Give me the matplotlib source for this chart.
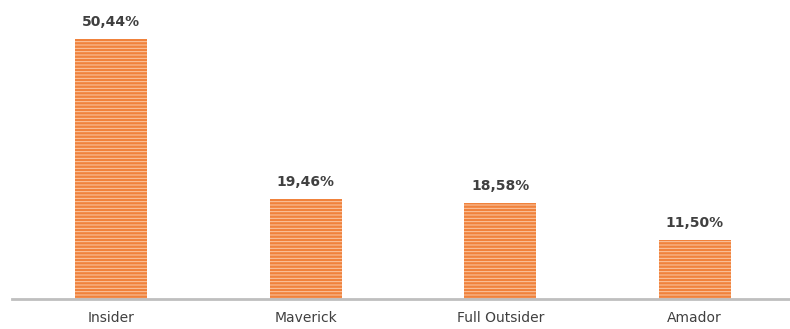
import matplotlib.pyplot as plt

categories = ['Insider', 'Maverick', 'Full Outsider', 'Amador']
values = [50.44, 19.46, 18.58, 11.50]
labels = ['50,44%', '19,46%', '18,58%', '11,50%']

plt.rcParams['hatch.linewidth'] = 0.7

fig = plt.figure(figsize=(7.9, 3.29), dpi=100)
ax = fig.add_axes([12 / 790, 30 / 329, 778 / 790, 299 / 329])

x = range(len(categories))
bars = ax.bar(x, values, width=0.37, color='#f0823c', edgecolor='#fbc9a6',
              linewidth=0, hatch='-----')

for b, lab in zip(bars, labels):
    ax.annotate(lab, (b.get_x() + b.get_width() / 2, b.get_height()),
                xytext=(0, 7), textcoords='offset points', ha='center', va='bottom',
                fontsize=10, fontweight='bold', color='#404040')

ax.set_xlim(-0.51, 3.49)
ax.set_ylim(0, 58)
ax.set_xticks(list(x))
ax.set_xticklabels(categories, fontsize=10, color='#404040')
ax.tick_params(axis='x', length=0, pad=9)
ax.set_yticks([])
for side in ['top', 'right', 'left']:
    ax.spines[side].set_visible(False)
ax.spines['bottom'].set_color('#bfbfbf')
ax.spines['bottom'].set_linewidth(2)

fig.savefig('out.png', dpi=100)
